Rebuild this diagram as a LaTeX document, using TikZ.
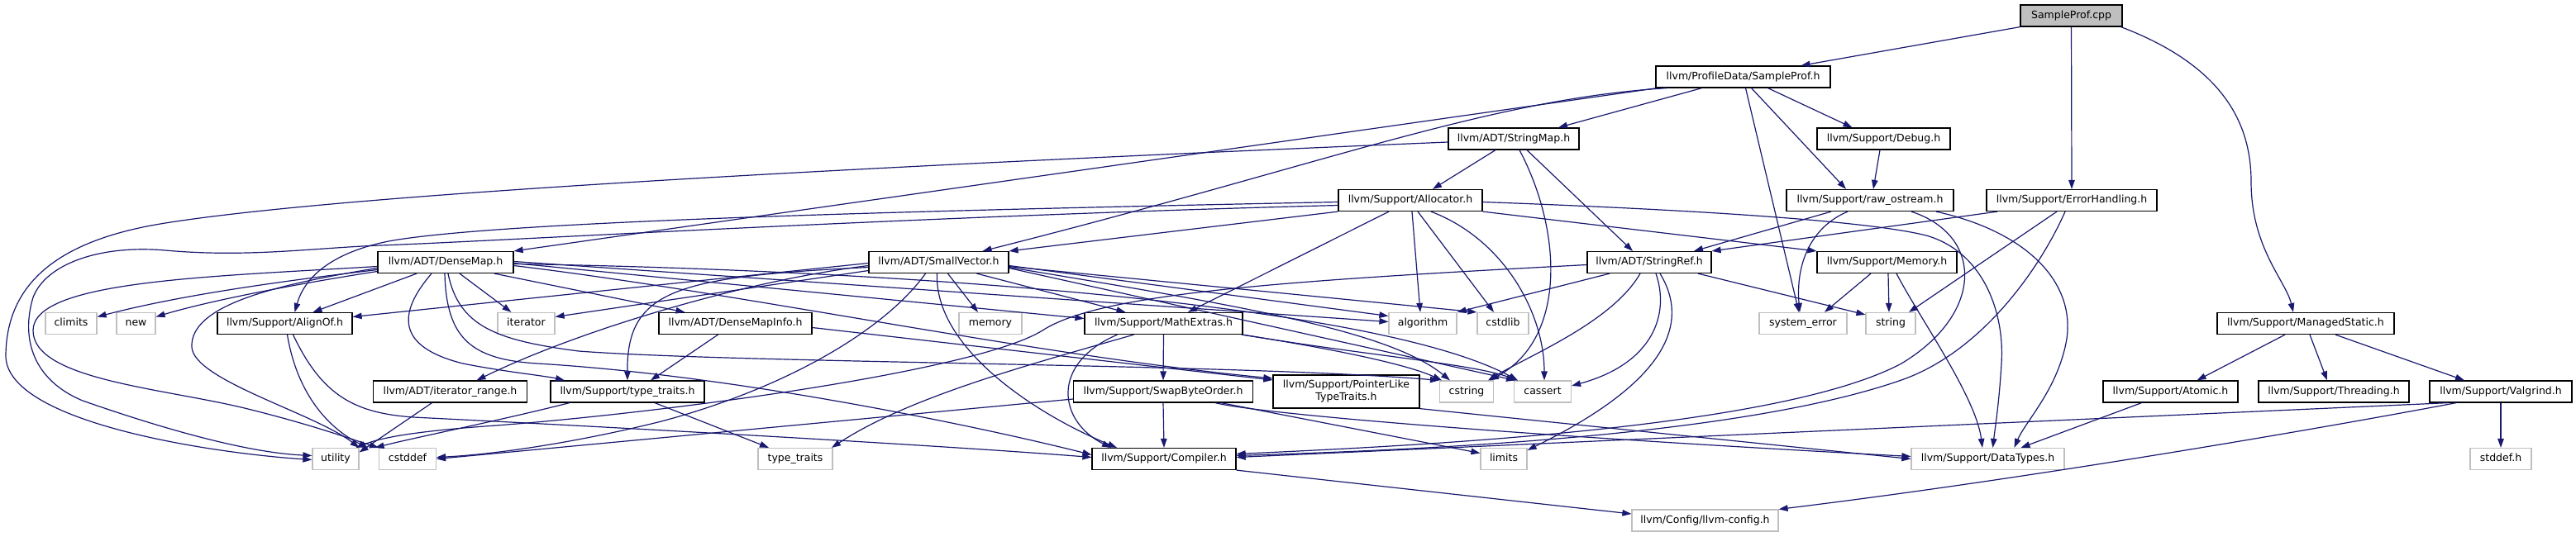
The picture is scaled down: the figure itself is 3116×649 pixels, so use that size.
\documentclass[tikz,border=0pt]{standalone}
\usepackage{fontspec}
\setmainfont{DejaVu Sans}
\usetikzlibrary{arrows.meta}
\definecolor{eblue}{HTML}{191970}
\definecolor{gbord}{HTML}{BFBFBF}
\definecolor{rootfill}{HTML}{BFBFBF}
\tikzset{
  basebox/.style={rectangle, draw=black, line width=1.2pt, fill=white, inner sep=0pt,
    font=\fontsize{12.5}{15}\selectfont},
  hdr/.style={basebox, minimum height=26pt, text height=9.3pt, text depth=2.7pt},
  ext/.style={hdr, draw=gbord},
  root/.style={hdr, fill=rootfill},
  twoline/.style={basebox, minimum height=40pt, align=center},
  e/.style={draw=eblue, line width=1.2pt, -{Triangle[length=11pt,width=7.5pt]}}
}
\begin{document}
\begin{tikzpicture}[x=1pt,y=-1pt]
\useasboundingbox (0,0) rectangle (3116,649);
\fill[white] (0,0) rectangle (3116,649);
% nodes
\node[root, minimum width=123] (spcpp) at (2505.5,19) {SampleProf.cpp};
\node[hdr, minimum width=211] (sph) at (2108.5,93) {llvm/ProfileData/SampleProf.h};
\node[hdr, minimum width=158] (smap) at (1831,168) {llvm/ADT/StringMap.h};
\node[hdr, minimum width=161] (debug) at (2278.5,168) {llvm/Support/Debug.h};
\node[hdr, minimum width=174] (alloc) at (1706,242.5) {llvm/Support/Allocator.h};
\node[hdr, minimum width=202] (rawos) at (2262,242.5) {llvm/Support/raw\_ostream.h};
\node[hdr, minimum width=206] (errh) at (2506,242.5) {llvm/Support/ErrorHandling.h};
\node[hdr, minimum width=164] (dmap) at (539,317.5) {llvm/ADT/DenseMap.h};
\node[hdr, minimum width=169] (svec) at (1135.5,317.5) {llvm/ADT/SmallVector.h};
\node[hdr, minimum width=150] (sref) at (1995,317.5) {llvm/ADT/StringRef.h};
\node[hdr, minimum width=169] (mem) at (2282.5,317.5) {llvm/Support/Memory.h};
\node[ext, minimum width=62] (climits) at (86,391.5) {climits};
\node[ext, minimum width=47] (new) at (164.5,391.5) {new};
\node[hdr, minimum width=163] (alignof) at (344.5,391.5) {llvm/Support/AlignOf.h};
\node[ext, minimum width=69] (iter) at (636.5,391.5) {iterator};
\node[hdr, minimum width=185] (dmi) at (889.5,391.5) {llvm/ADT/DenseMapInfo.h};
\node[ext, minimum width=76] (memory) at (1198,391.5) {memory};
\node[hdr, minimum width=191] (mathx) at (1407.5,391.5) {llvm/Support/MathExtras.h};
\node[ext, minimum width=82] (algo) at (1721,391.5) {algorithm};
\node[ext, minimum width=62] (cstdlib) at (1818,391.5) {cstdlib};
\node[ext, minimum width=106] (syserr) at (2181,391.5) {system\_error};
\node[ext, minimum width=60] (string) at (2287,391.5) {string};
\node[hdr, minimum width=214] (mstatic) at (2789,391.5) {llvm/Support/ManagedStatic.h};
\node[hdr, minimum width=186] (itrange) at (544.5,474) {llvm/ADT/iterator\_range.h};
\node[hdr, minimum width=186] (tt) at (759,474) {llvm/Support/type\_traits.h};
\node[hdr, minimum width=217] (swap) at (1407,474) {llvm/Support/SwapByteOrder.h};
\node[twoline, minimum width=177] (plt) at (1628.5,474) {llvm/Support/PointerLike\\TypeTraits.h};
\node[ext, minimum width=65] (cstring) at (1774,474) {cstring};
\node[ext, minimum width=69] (cassert) at (1866,474) {cassert};
\node[hdr, minimum width=163] (atomic) at (2625.5,474) {llvm/Support/Atomic.h};
\node[hdr, minimum width=182] (thread) at (2823,474) {llvm/Support/Threading.h};
\node[hdr, minimum width=172] (valg) at (3025,474) {llvm/Support/Valgrind.h};
\node[ext, minimum width=56] (utility) at (406,555.5) {utility};
\node[ext, minimum width=69] (cstddef) at (493,555.5) {cstddef};
\node[ext, minimum width=90] (ttstd) at (962,555.5) {type\_traits};
\node[hdr, minimum width=174] (compiler) at (1408,555.5) {llvm/Support/Compiler.h};
\node[ext, minimum width=56] (limits) at (1819,555.5) {limits};
\node[ext, minimum width=185] (dtypes) at (2404.5,555.5) {llvm/Support/DataTypes.h};
\node[ext, minimum width=74] (stddef) at (3025,555.5) {stddef.h};
\node[ext, minimum width=177] (llcfg) at (2062.5,630) {llvm/Config/llvm-config.h};
% edges: SampleProf.cpp
\draw[e] (spcpp.south west) -- ([xshift=70]sph.north);
\draw[e] (spcpp.south) -- (errh.north);
\draw[e] ([xshift=-2]spcpp.south east) .. controls (2690,80) and (2723,150) .. (2723,220) .. controls (2723,300) and (2765,340) .. ([xshift=-15]mstatic.north);
% SampleProf.h
\draw[e] ([xshift=2]sph.south west) -- (dmap.north east);
\draw[e] ([xshift=14]sph.south west) .. controls (1800,120) and (1600,200) .. ([xshift=53]svec.north);
\draw[e] ([xshift=-50]sph.south) -- ([xshift=54]smap.north);
\draw[e] ([xshift=30]sph.south) -- ([xshift=-38]debug.north);
\draw[e] ([xshift=10]sph.south) -- ([xshift=-29]rawos.north);
\draw[e] ([xshift=3]sph.south) -- ([xshift=-5]syserr.north);
% StringMap.h
\draw[e] ([xshift=-22]smap.south) -- ([xshift=27]alloc.north);
\draw[e] ([xshift=16]smap.south) -- ([xshift=-20]sref.north);
\draw[e] ([xshift=7]smap.south) .. controls (1890,280) and (1895,410) .. ([xshift=28]cstring.north);
\draw[e] ([yshift=-4]smap.west) .. controls (1200,195) and (450,230) .. (200,270) .. controls (60,292) and (8,350) .. (7,430) .. controls (6,510) and (250,548) .. ([yshift=-1]utility.west);
% Allocator.h
\draw[e] (alloc.south west) -- (svec.north east);
\draw[e] ([yshift=-2]alloc.west) .. controls (1100,255) and (600,268) .. (470,292) .. controls (410,304) and (370,330) .. ([xshift=12]alignof.north);
\draw[e] ([yshift=-6]alloc.west) .. controls (1100,262) and (600,292) .. (460,297) .. controls (380,300) and (300,312) .. (200,303) .. controls (120,296) and (55,320) .. (40,360) .. controls (25,410) and (40,460) .. (100,485) .. controls (200,520) and (300,548) .. ([yshift=4]utility.west);
\draw[e] ([yshift=-2]alloc.east) .. controls (2000,252) and (2250,265) .. (2330,285) .. controls (2400,305) and (2425,380) .. (2421,440) .. controls (2418,490) and (2413,520) .. ([xshift=6]dtypes.north);
\draw[e] ([xshift=-26]alloc.south) -- ([xshift=29.5]mathx.north);
\draw[e] (alloc.south east) -- (mem.north west);
\draw[e] ([xshift=2]alloc.south) -- ([xshift=-3]algo.north);
\draw[e] ([xshift=9]alloc.south) -- ([xshift=-11]cstdlib.north);
\draw[e] ([xshift=25]alloc.south) .. controls (1820,290) and (1868,380) .. ([xshift=2]cassert.north);
% Debug.h
\draw[e] ([xshift=-4.5]debug.south) -- ([xshift=4]rawos.north);
% raw_ostream.h
\draw[e] ([xshift=-47]rawos.south) -- ([xshift=54]sref.north);
\draw[e] ([xshift=-27]rawos.south) .. controls (2190,275) and (2172,320) .. ([xshift=-4]syserr.north);
\draw[e] ([xshift=50]rawos.south) .. controls (2400,285) and (2400,380) .. (2300,440) .. controls (2150,520) and (1700,540) .. ([yshift=6]compiler.east);
\draw[e] ([xshift=80]rawos.south) .. controls (2450,280) and (2510,340) .. (2500,410) .. controls (2490,470) and (2450,510) .. ([xshift=32]dtypes.north);
% ErrorHandling.h
\draw[e] ([xshift=-90]errh.south) -- (sref.north east);
\draw[e] ([xshift=-18]errh.south) -- ([xshift=22]string.north);
\draw[e] ([xshift=-8]errh.south) .. controls (2470,320) and (2400,425) .. (2300,460) .. controls (2100,530) and (1700,545) .. ([yshift=4]compiler.east);
% Memory.h
\draw[e] ([xshift=11.5]mem.south) .. controls (2322,385) and (2390,480) .. ([xshift=-6.5]dtypes.north);
\draw[e] ([xshift=1.5]mem.south) -- ([xshift=-2]string.north);
\draw[e] ([xshift=-19.5]mem.south) -- ([xshift=26]syserr.north);
% StringRef.h
\draw[e] ([xshift=-48]sref.south) -- (algo.north east);
\draw[e] ([xshift=8]sref.south) .. controls (2020,380) and (2000,440) .. ([yshift=7]cassert.east);
\draw[e] ([xshift=-11]sref.south) .. controls (1950,390) and (1850,430) .. ([xshift=26]cstring.north);
\draw[e] ([xshift=13]sref.south) .. controls (2050,400) and (2000,470) .. ([yshift=-3]limits.north east);
\draw[e] ([xshift=59]sref.south) -- ([yshift=-3]string.north west);
\draw[e] ([yshift=-3]sref.west) .. controls (1550,340) and (1330,355) .. (1261,400) .. controls (1180,450) and (800,500) .. (600,515) .. controls (500,522) and (460,530) .. ([xshift=-4]utility.north east);
% SmallVector.h
\draw[e] ([yshift=-4]svec.west) .. controls (900,340) and (700,400) .. ([xshift=32]itrange.north);
\draw[e] ([yshift=-1]svec.west) -- ([yshift=8]alignof.east);
\draw[e] ([xshift=-2]svec.south) .. controls (1130,420) and (1250,500) .. ([xshift=-57]compiler.north);
\draw[e] ([xshift=46]svec.south) -- ([xshift=-46]mathx.north);
\draw[e] ([yshift=-6]svec.west) .. controls (820,335) and (758,350) .. (tt.north);
\draw[e] ([yshift=-4]svec.east) -- ([yshift=9]algo.west);
\draw[e] ([yshift=-7]svec.east) -- ([xshift=-33]cassert.north);
\draw[e] ([xshift=-16]svec.south) .. controls (1070,400) and (950,470) .. (800,510) .. controls (700,535) and (600,550) .. ([yshift=2]cstddef.east);
\draw[e] ([yshift=-5]svec.east) -- (cstdlib.north west);
\draw[e] ([yshift=-6]svec.east) .. controls (1500,370) and (1680,400) .. ([xshift=-20]cstring.north);
\draw[e] ([yshift=-10]svec.west) -- ([yshift=8]iter.east);
\draw[e] ([xshift=11]svec.south) -- ([xshift=-15]memory.north);
% DenseMap.h
\draw[e] ([xshift=59]dmap.south) -- ([xshift=-61]dmi.north);
\draw[e] ([xshift=-35]dmap.south) -- ([xshift=34]alignof.north);
\draw[e] ([xshift=-1]dmap.south) .. controls (540,410) and (570,435) .. (650,440) .. controls (900,455) and (1200,520) .. ([yshift=5]compiler.west);
\draw[e] ([xshift=3]dmap.south) .. controls (555,395) and (600,412) .. (700,425) .. controls (900,440) and (1500,440) .. (cstring.north west);
\draw[e] ([yshift=-4]dmap.east) .. controls (900,355) and (1250,430) .. ([yshift=16]plt.west);
\draw[e] ([xshift=-17]dmap.south) .. controls (480,380) and (480,420) .. (560,440) .. controls (610,450) and (660,455) .. ([xshift=-76]tt.north);
\draw[e] ([yshift=1]dmap.east) -- ([yshift=2]algo.west);
\draw[e] ([yshift=-2]dmap.east) .. controls (1000,325) and (1650,360) .. ([xshift=-30]cassert.north);
\draw[e] ([yshift=-9]dmap.west) .. controls (300,345) and (200,362) .. ([yshift=8]climits.east);
\draw[e] ([yshift=-11]dmap.west) .. controls (350,345) and (250,365) .. ([yshift=8]new.east);
\draw[e] ([yshift=-5]dmap.west) .. controls (250,335) and (40,340) .. (40,400) .. controls (40,460) and (200,470) .. (300,495) .. controls (380,515) and (420,530) .. (cstddef.north west);
\draw[e] ([yshift=-7]dmap.west) .. controls (330,345) and (230,370) .. (232,420) .. controls (234,460) and (380,500) .. (utility.north east);
\draw[e] ([xshift=17]dmap.south) -- ([xshift=-18]iter.north);
\draw[e] ([yshift=-1]dmap.east) -- ([yshift=6]mathx.west);
% DenseMapInfo.h
\draw[e] ([yshift=-5]dmi.east) -- ([yshift=14]plt.west);
\draw[e] ([xshift=-21]dmi.south) -- ([xshift=28]tt.north);
% AlignOf.h
\draw[e] ([xshift=10]alignof.south) .. controls (390,480) and (430,500) .. (500,505) .. controls (800,520) and (1150,540) .. ([yshift=2]compiler.west);
\draw[e] ([xshift=3]alignof.south) .. controls (360,480) and (400,520) .. ([xshift=-13]cstddef.north west);
% iterator_range.h, type_traits.h
\draw[e] ([xshift=-22]itrange.south) -- ([yshift=8]utility.east);
\draw[e] ([xshift=33]tt.south) -- ([xshift=-32]ttstd.north);
\draw[e] ([xshift=-70]tt.south) .. controls (600,510) and (500,530) .. ([xshift=19]utility.north east);
% MathExtras.h
\draw[e] ([xshift=-56]mathx.south) .. controls (1270,440) and (1280,510) .. ([xshift=-64]compiler.north);
\draw[e] (mathx.south) -- (swap.north);
\draw[e] (mathx.south east) .. controls (1650,430) and (1780,440) .. ([xshift=-30]cassert.north);
\draw[e] ([xshift=-2]mathx.south east) .. controls (1600,420) and (1700,440) .. ([xshift=-30]cstring.north);
\draw[e] ([xshift=-36]mathx.south) .. controls (1250,440) and (1100,480) .. ([xshift=44]ttstd.north);
% SwapByteOrder.h
\draw[e] (swap.south) -- (compiler.north);
\draw[e] ([xshift=63]swap.south) .. controls (1520,500) and (1800,525) .. ([yshift=3]dtypes.west);
\draw[e] ([yshift=-9]swap.west) -- (cstddef.east);
\draw[e] ([xshift=70]swap.south) -- ([yshift=7]limits.west);
% PointerLikeTypeTraits.h
\draw[e] (plt.south east) -- (dtypes.west);
% Compiler.h
\draw[e] (compiler.south east) -- ([yshift=8]llcfg.west);
% ManagedStatic.h
\draw[e] ([xshift=-25]mstatic.south) -- ([xshift=32]atomic.north);
\draw[e] ([xshift=5]mstatic.south) -- ([xshift=-8]thread.north);
\draw[e] ([xshift=36]mstatic.south) -- ([xshift=-44]valg.north);
% Atomic.h
\draw[e] ([xshift=-35]atomic.south) -- ([xshift=40]dtypes.north);
% Valgrind.h
\draw[e] (valg.south) -- (stddef.north);
\draw[e] ([xshift=-54]valg.south) .. controls (2800,520) and (2450,580) .. (llcfg.north east);
\draw[e] ([xshift=-64]valg.south) -- ([yshift=2]compiler.east);
\end{tikzpicture}
\end{document}
